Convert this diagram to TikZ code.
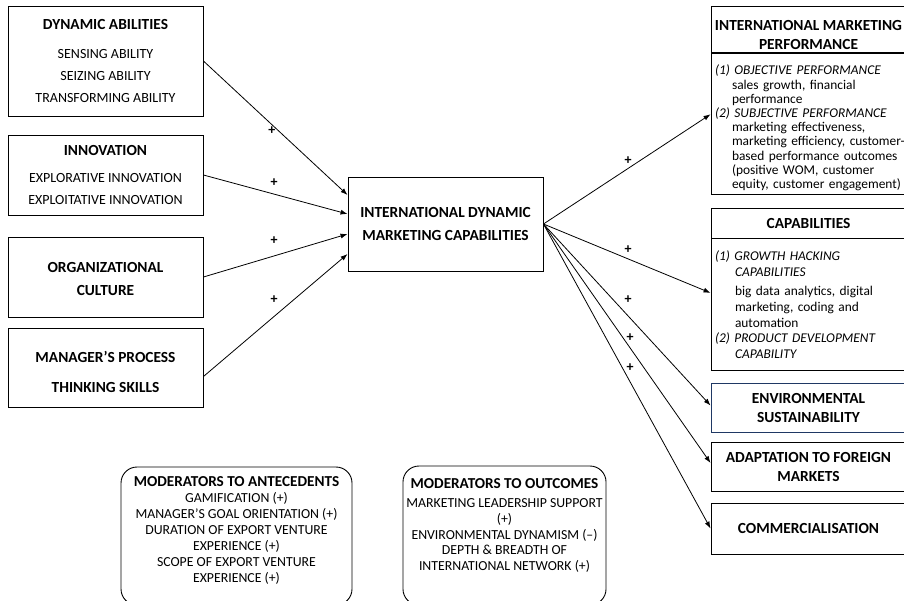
\documentclass[tikz,border=0pt]{standalone}
\usepackage{fontspec}
\setmainfont{Carlito}
\usetikzlibrary{positioning, arrows.meta}
\setlength{\parindent}{0pt}
\definecolor{envblue}{RGB}{31,56,100}
\newcommand\hdfont{\bfseries\fontsize{15.4}{23}\selectfont}
\newcommand\txtfont{\fontsize{14}{22}\selectfont}
\newcommand\smfont{\fontsize{13.4}{14.2}\selectfont}
\newcommand\modfont{\fontsize{13.8}{16}\selectfont}

\begin{document}
\begin{tikzpicture}[x=1pt, y=-1pt,
        box/.style={draw, rectangle, line width=0.9pt, minimum width=195pt, align=center, font=\txtfont},
        hbox/.style={box, font=\hdfont},
        rhead/.style={draw, rectangle, line width=0.9pt, minimum width=195pt, align=center, font={\bfseries\fontsize{15.4}{19}\selectfont}},
        infobody/.style={draw, rectangle, line width=0.9pt, text width=195pt, inner xsep=4pt, align=left, font=\smfont, anchor=north west},
        modbox/.style={draw, rectangle, rounded corners=16pt, line width=0.9pt, align=center, font=\modfont},
        plus/.style={font={\bfseries\fontsize{14}{14}\selectfont}, inner sep=0pt},
        arrow/.style={-{Latex[length=7pt, width=5pt]}, line width=0.8pt}
    ]
    \useasboundingbox (0,0) rectangle (904,600);

    % Antecedents
    \node[box, minimum height=110pt] (dyn) at (105.5,61) {{\hdfont DYNAMIC ABILITIES}\\[7pt] SENSING ABILITY\\ SEIZING ABILITY\\ TRANSFORMING ABILITY};
    \node[box, minimum height=80pt] (inno) at (105.5,175) {{\hdfont INNOVATION}\\[5pt] EXPLORATIVE INNOVATION\\ EXPLOITATIVE INNOVATION};
    \node[hbox, minimum height=80pt] (orgc) at (105.5,277) {\rule{0pt}{15pt}ORGANIZATIONAL\\ CULTURE};
    \node[hbox, minimum height=79pt] (mgr) at (105.5,367.5) {\rule{0pt}{21pt}MANAGER’S PROCESS\\[7pt] THINKING SKILLS};

    % Central construct
    \node[hbox, minimum height=94pt] (idmc) at (445.5,224) {INTERNATIONAL DYNAMIC\\ MARKETING CAPABILITIES};

    % Outcomes
    \node[rhead, minimum height=45pt] (perfhead) at (808.5,29.5) {\rule{0pt}{21pt}INTERNATIONAL MARKETING\\ PERFORMANCE};
    \node[infobody, minimum height=141pt] (perfbody) at (perfhead.south west) {%
        \rule{0pt}{17pt}\textit{(1) OBJECTIVE PERFORMANCE}\\
        \hspace*{17pt}sales growth, financial\\
        \hspace*{17pt}performance\\
        \textit{(2) SUBJECTIVE PERFORMANCE}\\
        \hspace*{17pt}marketing effectiveness,\\
        \hspace*{17pt}marketing efficiency, customer-\\
        \hspace*{17pt}based performance outcomes\\
        \hspace*{17pt}(positive WOM, customer\\
        \hspace*{17pt}equity, customer engagement)};
    \node[rhead, minimum height=30pt] (caphead) at (808.5,223) {CAPABILITIES};
    \node[infobody, minimum height=132pt, font={\fontsize{13.4}{15.8}\selectfont}] (capbody) at (caphead.south west) {%
        \textit{(1) GROWTH HACKING}\\
        \hspace*{20pt}\textit{CAPABILITIES}\\[3pt]
        \hspace*{20pt}big data analytics, digital\\
        \hspace*{20pt}marketing, coding and\\
        \hspace*{20pt}automation\\
        \textit{(2) PRODUCT DEVELOPMENT}\\
        \hspace*{20pt}\textit{CAPABILITY}};
    \node[rhead, draw=envblue, minimum height=49pt] (env) at (808.5,407.5) {ENVIRONMENTAL\\ SUSTAINABILITY};
    \node[rhead, minimum height=49pt] (adapt) at (808.5,466.5) {ADAPTATION TO FOREIGN\\ MARKETS};
    \node[rhead, minimum height=51pt] (comm) at (808.5,528.5) {COMMERCIALISATION};

    % Moderators
    \node[modbox, minimum width=231pt, minimum height=138pt] (modant) at (236.5,536) {{\bfseries\fontsize{15.2}{16}\selectfont MODERATORS TO ANTECEDENTS}\\ GAMIFICATION (+)\\ MANAGER’S GOAL ORIENTATION (+)\\ DURATION OF EXPORT VENTURE\\ EXPERIENCE (+)\\ SCOPE OF EXPORT VENTURE\\ EXPERIENCE (+)\rule[-12pt]{0pt}{12pt}};
    \node[modbox, minimum width=203pt, minimum height=139pt, font={\fontsize{13.8}{15.6}\selectfont}] (modout) at (504.5,535.5) {{\bfseries\fontsize{15.2}{16}\selectfont MODERATORS TO OUTCOMES}\\[3.5pt] MARKETING LEADERSHIP SUPPORT\\ (+)\\ ENVIRONMENTAL DYNAMISM (–)\\ DEPTH \& BREADTH OF\\ INTERNATIONAL NETWORK (+)\rule[-22pt]{0pt}{22pt}};

    % Antecedent arrows
    \draw[arrow] (dyn.east) -- node[plus, pos=.51, xshift=-5pt, yshift=-1pt] {+} ([yshift=29pt]idmc.west);
    \draw[arrow] (inno.east) -- node[plus, pos=.49, yshift=11pt] {+} ([yshift=10pt]idmc.west);
    \draw[arrow] (orgc.east) -- node[plus, pos=.49, yshift=15pt] {+} ([yshift=-10pt]idmc.west);
    \draw[arrow] ([yshift=-9pt]mgr.east) -- node[plus, pos=.49, yshift=17pt] {+} ([yshift=-30pt]idmc.west);

    % Outcome arrows
    \draw[arrow] (idmc.east) -- node[plus, pos=.506, yshift=8pt] {+} ([yshift=10pt]perfbody.west);
    \draw[arrow] (idmc.east) -- node[plus, pos=.506, yshift=9pt] {+} ([yshift=12pt]capbody.west);
    \draw[arrow] (idmc.east) -- node[plus, pos=.506, yshift=16pt] {+} ([yshift=2pt]env.west);
    \draw[arrow] (idmc.east) -- node[plus, pos=.518, yshift=10pt] {+} ([yshift=3.5pt]adapt.west);
    \draw[arrow] (idmc.east) -- node[plus, pos=.518, yshift=14pt] {+} (comm.west);
\end{tikzpicture}
\end{document}
